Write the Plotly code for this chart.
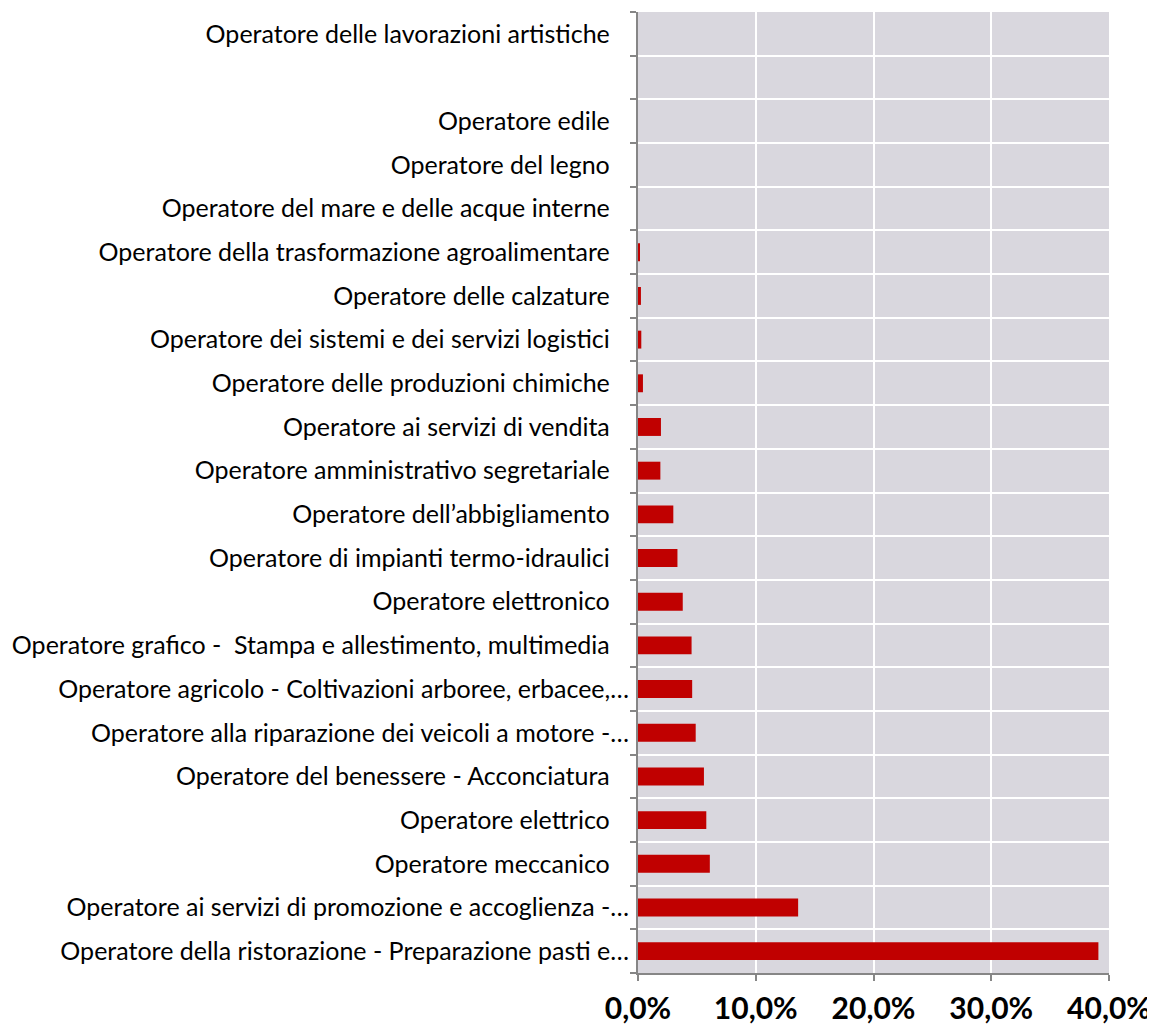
import plotly.graph_objects as go

categories = [
    "Operatore della ristorazione - Preparazione pasti e…",
    "Operatore ai servizi di promozione e accoglienza -…",
    "Operatore meccanico",
    "Operatore elettrico",
    "Operatore del benessere - Acconciatura",
    "Operatore alla riparazione dei veicoli a motore -…",
    "Operatore agricolo - Coltivazioni arboree, erbacee,…",
    "Operatore grafico -  Stampa e allestimento, multimedia",
    "Operatore elettronico",
    "Operatore di impianti termo-idraulici",
    "Operatore dell’abbigliamento",
    "Operatore amministrativo segretariale",
    "Operatore ai servizi di vendita",
    "Operatore delle produzioni chimiche",
    "Operatore dei sistemi e dei servizi logistici",
    "Operatore delle calzature",
    "Operatore della trasformazione agroalimentare",
    "Operatore del mare e delle acque interne",
    "Operatore del legno",
    "Operatore edile",
    " ",
    "Operatore delle lavorazioni artistiche",
]

values = [
    0.391, 0.136, 0.061, 0.058, 0.056, 0.049, 0.046, 0.0455, 0.038, 0.0335,
    0.030, 0.019, 0.0195, 0.0042, 0.0028, 0.0025, 0.0017, 0.0, 0.0, 0.0,
    None, 0.0,
]

tick_vals = [0, 0.1, 0.2, 0.3, 0.4]

FONT = "Lato, Calibri, sans-serif"
PAD = "\u00a0\u00a0\u00a0"
tick_text = [c if c.endswith("…") else c + PAD for c in categories]

fig = go.Figure(
    go.Bar(
        x=values,
        y=categories,
        orientation="h",
        marker=dict(color="#C00000", line=dict(width=0)),
    )
)

# page body has an 8px default margin: offset figure size/margins accordingly
fig.update_layout(
    width=1147,
    height=1021,
    margin=dict(l=628, r=44, t=4, b=56),
    paper_bgcolor="white",
    plot_bgcolor="#D9D7DE",
    bargap=0.59,
    separators=",.",
    showlegend=False,
    font=dict(family=FONT, color="black"),
)

fig.update_xaxes(
    range=[0, 0.4],
    tickvals=tick_vals,
    tickformat=".1%",
    showgrid=True,
    gridcolor="white",
    gridwidth=2,
    zeroline=False,
    showline=True,
    linecolor="#868686",
    linewidth=2,
    ticks="outside",
    ticklen=6,
    tickcolor="#868686",
    tickwidth=2,
    ticklabelstandoff=2,
    tickfont=dict(size=30, family=FONT, color="black", weight="bold"),
)

fig.update_yaxes(
    type="category",
    categoryorder="array",
    categoryarray=categories,
    tickmode="array",
    tickvals=categories,
    ticktext=tick_text,
    tickson="boundaries",
    showgrid=True,
    gridcolor="white",
    gridwidth=2,
    showline=True,
    linecolor="#868686",
    linewidth=2,
    ticks="outside",
    ticklen=6,
    tickcolor="#868686",
    tickwidth=2,
    ticklabelstandoff=2,
    tickfont=dict(size=25, family=FONT, color="black"),
)

fig.write_html("out.html")
